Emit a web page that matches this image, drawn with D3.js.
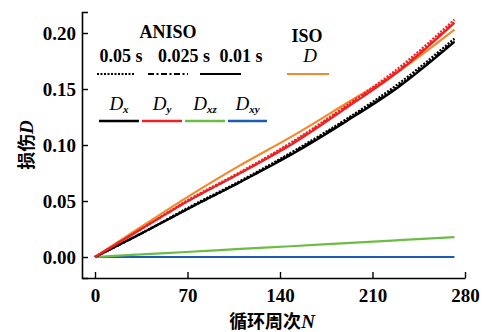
<!DOCTYPE html>
<html>
<head>
<meta charset="utf-8">
<script src="https://cdn.jsdelivr.net/npm/d3@7"></script>
<style>
  body { margin: 0; background: #fff; }
  .serif { font-family: "Liberation Serif", "Times New Roman", "DejaVu Serif", serif; }
  .cjk { font-family: "Noto Sans CJK SC", sans-serif; }
</style>
</head>
<body>
<div id="chart"></div>
<script>
// cycle numbers
const cycles = [0, 35, 72, 110, 148, 190, 230, 272];

// ISO damage D
const isoD = [0, 0.027, 0.055, 0.082, 0.107, 0.137, 0.166, 0.203];

// ANISO, step 0.01 s
const dx01 = [0, 0.021, 0.044, 0.067, 0.091, 0.121, 0.152, 0.192];
const dy01 = [0, 0.025, 0.051, 0.075, 0.100, 0.133, 0.166, 0.209];
const dxz01 = [0, 0.0023, 0.0047, 0.0072, 0.0096, 0.0124, 0.0150, 0.0177];
const dxy01 = [0, 0, 0, 0, 0, 0, 0, 0];

// ANISO, step 0.025 s
const dx025 = [0, 0.021, 0.044, 0.067, 0.092, 0.122, 0.153, 0.193];
const dy025 = [0, 0.025, 0.051, 0.075, 0.101, 0.134, 0.167, 0.210];

// ANISO, step 0.05 s
const dx05 = [0, 0.021, 0.045, 0.068, 0.093, 0.123, 0.155, 0.195];
const dy05 = [0, 0.025, 0.052, 0.076, 0.102, 0.135, 0.169, 0.212];

const xTicks = [0, 70, 140, 210, 280];
const yTicks = [0, 0.05, 0.1, 0.15, 0.2];

const width = 486, height = 332;
const col = { dx: "#000000", dy: "#ee2225", dxz: "#6cbd45", dxy: "#1b5cb4", iso: "#f5892a" };

const svg = d3.select("#chart").append("svg")
  .attr("width", width).attr("height", height);

const x = d3.scaleLinear().domain([-9.84, 280]).range([82, 465]);
const y = d3.scaleLinear().domain([-0.01875, 0.21875]).range([278, 12]);

// axes (ticks inside)
svg.append("g")
  .attr("transform", `translate(0,${y.range()[0]})`)
  .call(d3.axisBottom(x).tickValues(xTicks).tickSize(-6).tickPadding(11).tickSizeOuter(0))
  .call(g => g.select(".domain").attr("stroke-width", 1.6))
  .call(g => g.selectAll(".tick line").attr("stroke-width", 1.4))
  .call(g => g.selectAll(".tick text").attr("class", "serif")
    .attr("font-size", 19).attr("font-weight", "bold"));

svg.append("g")
  .attr("transform", `translate(${x.range()[0]},0)`)
  .call(d3.axisLeft(y).tickValues(yTicks).tickFormat(d3.format(".2f")).tickSize(-6).tickPadding(6).tickSizeOuter(-6))
  .call(g => g.select(".domain").attr("stroke-width", 1.6))
  .call(g => g.selectAll(".tick line").attr("stroke-width", 1.4))
  .call(g => g.selectAll(".tick text").attr("class", "serif")
    .attr("font-size", 19).attr("font-weight", "bold"));

// axis titles
svg.append("text")
  .attr("x", 272).attr("y", 328)
  .attr("text-anchor", "middle")
  .attr("font-size", 18).attr("font-weight", "bold")
  .call(t => {
    t.append("tspan").attr("class", "cjk").text("循环周次");
    t.append("tspan").attr("class", "serif").attr("font-style", "italic").attr("font-size", 19).text("N");
  });

svg.append("text")
  .attr("transform", "translate(33,145) rotate(-90)")
  .attr("text-anchor", "middle")
  .attr("font-size", 18).attr("font-weight", "bold")
  .call(t => {
    t.append("tspan").attr("class", "cjk").text("损伤");
    t.append("tspan").attr("class", "serif").attr("font-style", "italic").attr("font-size", 19).text("D");
  });

// lines
const line = vals => d3.line()
  .x((d, i) => x(cycles[i]))
  .y(d => y(d))
  .curve(d3.curveMonotoneX)(vals);

const series = [
  { v: dxy01, c: col.dxy, dash: null },
  { v: dxz01, c: col.dxz, dash: null },
  { v: isoD, c: col.iso, dash: null },
  { v: dx05, c: col.dx, dash: "2,1.5" },
  { v: dx025, c: col.dx, dash: "6,2,2,2" },
  { v: dx01, c: col.dx, dash: null },
  { v: dy05, c: col.dy, dash: "2,1.5" },
  { v: dy025, c: col.dy, dash: "6,2,2,2" },
  { v: dy01, c: col.dy, dash: null }
];

svg.append("g").selectAll("path")
  .data(series)
  .enter()
  .append("path")
  .attr("d", d => line(d.v))
  .attr("fill", "none")
  .attr("stroke", d => d.c)
  .attr("stroke-width", 2.2)
  .attr("stroke-dasharray", d => d.dash);

// legend
const lg = svg.append("g").attr("class", "serif").attr("font-weight", "bold");
lg.append("text").attr("x", 168).attr("y", 38).attr("text-anchor", "middle")
  .attr("font-size", 18).text("ANISO");
lg.append("text").attr("x", 307).attr("y", 42).attr("text-anchor", "middle")
  .attr("font-size", 18).text("ISO");
lg.append("text").attr("x", 310).attr("y", 62).attr("text-anchor", "middle")
  .attr("font-size", 19).attr("font-style", "italic").attr("font-weight", "normal").text("D");

const steps = [
  { t: "0.05 s", x: 121, dash: "2,1.5", x1: 97, x2: 134 },
  { t: "0.025 s", x: 184, dash: "6,2.5,2,2.5", x1: 148, x2: 188 },
  { t: "0.01 s", x: 241, dash: null, x1: 200, x2: 241 }
];
steps.forEach(s => {
  lg.append("text").attr("x", s.x).attr("y", 62).attr("text-anchor", "middle")
    .attr("font-size", 18).text(s.t);
  lg.append("line").attr("x1", s.x1).attr("x2", s.x2).attr("y1", 74).attr("y2", 74)
    .attr("stroke", "#000").attr("stroke-width", 2).attr("stroke-dasharray", s.dash);
});
lg.append("line").attr("x1", 287).attr("x2", 329).attr("y1", 74).attr("y2", 74)
  .attr("stroke", col.iso).attr("stroke-width", 2);

const comps = [
  { sub: "x", c: col.dx, x1: 99, x2: 139 },
  { sub: "y", c: col.dy, x1: 142, x2: 182 },
  { sub: "xz", c: col.dxz, x1: 185, x2: 225 },
  { sub: "xy", c: col.dxy, x1: 228, x2: 267 }
];
comps.forEach(s => {
  const t = lg.append("text").attr("x", (s.x1 + s.x2) / 2).attr("y", 110)
    .attr("text-anchor", "middle").attr("font-style", "italic");
  t.append("tspan").attr("font-size", 19).attr("font-weight", "normal").text("D");
  t.append("tspan").attr("font-size", 11).attr("dy", 3).text(s.sub);
  lg.append("line").attr("x1", s.x1).attr("x2", s.x2).attr("y1", 121).attr("y2", 121)
    .attr("stroke", s.c).attr("stroke-width", 2.5);
});
</script>
</body>
</html>
